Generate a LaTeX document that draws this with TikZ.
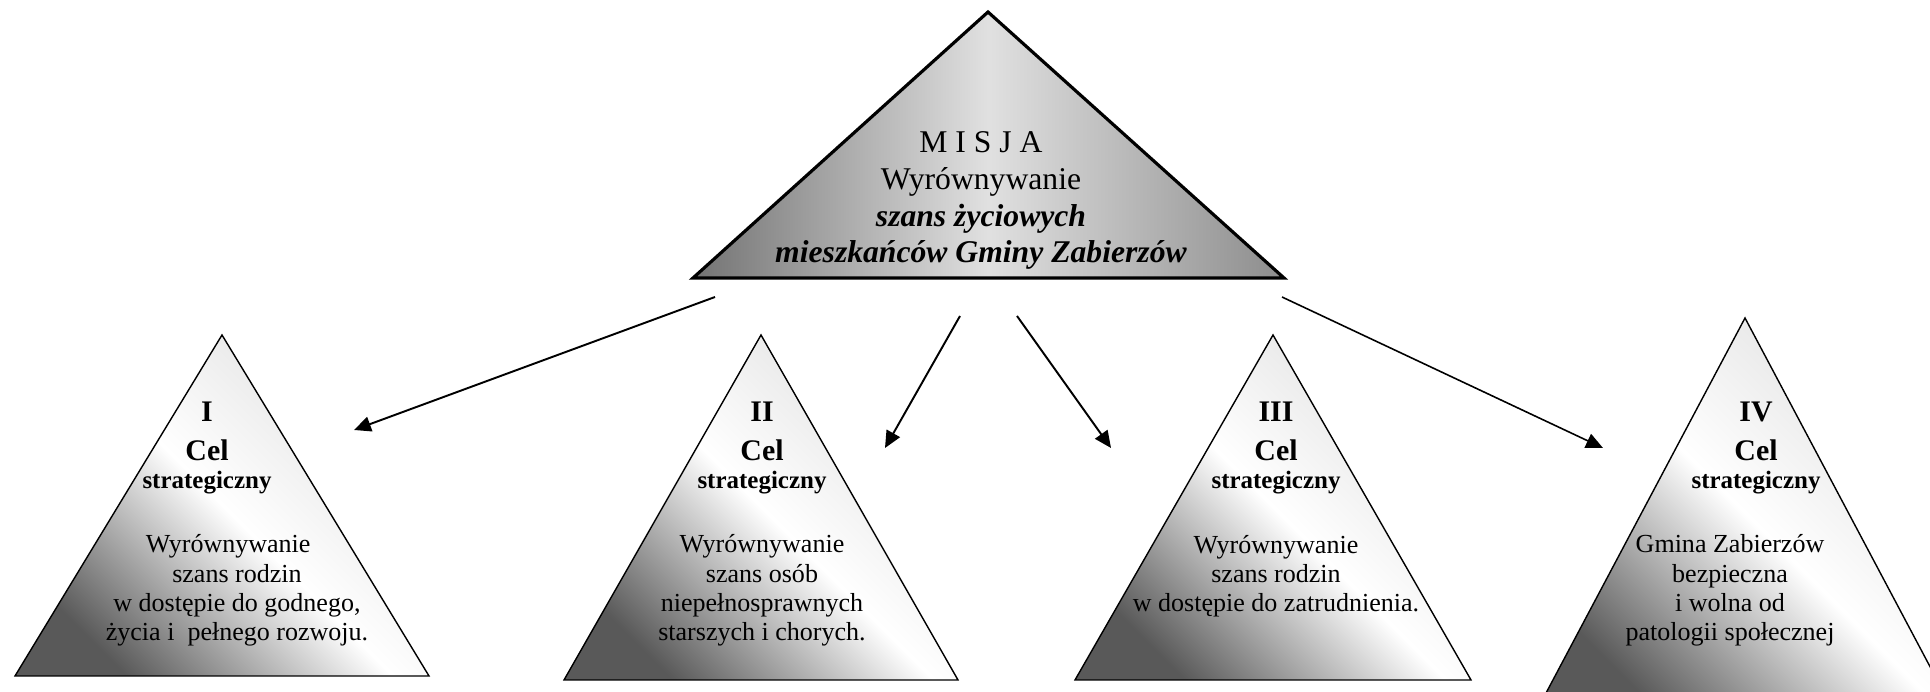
\documentclass[tikz,border=0pt]{standalone}
\usepackage{fontspec}
\setmainfont{Liberation Serif}
\usetikzlibrary{arrows.meta}
\newcommand{\celstrat}{Cel\\[-2.8pt]{\fontsize{7.1}{8}\selectfont strategiczny}}
\begin{document}
\begin{tikzpicture}[x=0.01cm,y=-0.01cm,
    goal/.style={draw,line width=0.4pt,bottom color=black!65,top color=black!12,middle color=white,shading angle=-45},
    head/.style={anchor=base,align=center,inner sep=0pt,font=\bfseries\fontsize{8.5}{11}\selectfont},
    body/.style={anchor=base,align=center,inner sep=0pt,font=\fontsize{7.4}{8.35}\selectfont},
    link/.style={-{Triangle[length=4.8pt,width=4.3pt]},line width=0.55pt}]
    \useasboundingbox (0,0) rectangle (1930,692);
    \clip (0,0) rectangle (1930,692);
    % misja
    \shadedraw[left color=black!55,right color=black!45,middle color=black!12,line width=0.9pt](988,12)--(1284,278)--(693,278)--cycle;
    \node[anchor=base,align=center,inner sep=0pt,font=\fontsize{9}{10.5}\selectfont](misja)at(981,263){M I S J A\\Wyrównywanie\\\textbf{\textit{szans życiowych}}\\\textbf{\textit{mieszkańców Gminy Zabierzów}}};
    % cele strategiczne
    \foreach \ax/\ay/\by/\hw in {222/335/676/207,761/335/680/197,1273/335/680/198,1745/318/710/208}
        \shadedraw[goal](\ax,\ay)--(\ax+\hw,\by)--(\ax-\hw,\by)--cycle;
    \node[head](cel1)at(207,489){I\\\celstrat};
    \node[head](cel2)at(762,489){II\\\celstrat};
    \node[head](cel3)at(1276,489){III\\\celstrat};
    \node[head](cel4)at(1756,489){IV\\\celstrat};
    \node[body](opis1)at(237,641){Wyrównywanie\hspace*{5pt}\\szans rodzin\hspace*{3pt}\\w dostępie do godnego,\\życia i\ \ pełnego rozwoju.};
    \node[body](opis2)at(762,641){Wyrównywanie\\szans osób\\niepełnosprawnych\\starszych i chorych.};
    \node[body](opis3)at(1276,612){Wyrównywanie\\szans rodzin\hspace*{10pt}\\w dostępie do zatrudnienia.};
    \node[body](opis4)at(1730,641){Gmina Zabierzów\\bezpieczna\\i wolna od\\patologii społecznej};
    % strzalki
    \coordinate(s1)at(715,297); \coordinate(e1)at(354,430);
    \coordinate(s2)at(960,316); \coordinate(e2)at(885,448);
    \coordinate(s3)at(1017,316); \coordinate(e3)at(1111,448);
    \coordinate(s4)at(1282,297); \coordinate(e4)at(1603,448);
    \draw[link](s1)--(e1);
    \draw[link](s2)--(e2);
    \draw[link](s3)--(e3);
    \draw[link,line width=0.45pt](s4)--(e4);
\end{tikzpicture}
\end{document}
